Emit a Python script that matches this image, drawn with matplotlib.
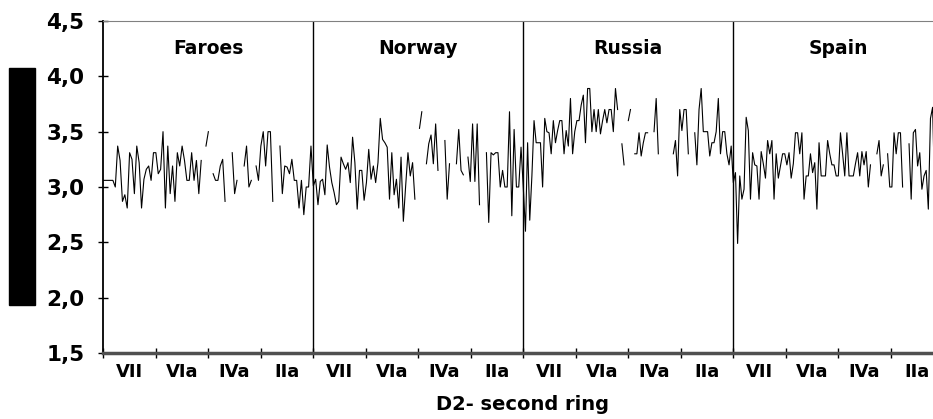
import numpy as np
import matplotlib
matplotlib.use("Agg")
import matplotlib.pyplot as plt
from matplotlib.patches import Rectangle

plt.rcParams['font.family'] = ['DejaVu Sans']
plt.rcParams['font.weight'] = 'bold'

nan = np.nan

countries = ["Faroes", "Norway", "Russia", "Spain"]
areas = ["VII", "VIa", "IVa", "IIa"]
y_ticks = [1.5, 2.0, 2.5, 3.0, 3.5, 4.0, 4.5]
x_label = "D2- second ring"

faroes = [3.06, 3.06, 3.06, 3.06, 3.06, 3.0, 3.37, 3.24, 2.87, 2.93, 2.81, 3.31, 3.25, 2.94,
          3.37, 3.22, 2.81, 3.07, 3.16, 3.19, 3.06, 3.31, 3.31, 3.12, 3.16, 3.5, 2.81, 3.37,
          2.94, 3.19, 2.87, 3.31, 3.19, 3.37, 3.24, 3.06, 3.06, 3.31, 3.06, 3.24, 2.94, 3.24,
          nan, 3.37, 3.5, nan, 3.12, 3.06, 3.06, 3.19, 3.25, 2.87, nan, nan, 3.31, 2.94, 3.06,
          nan, nan, 3.19, 3.37, 3.0, 3.06, nan, 3.19, 3.06, 3.37, 3.5, 3.19, 3.5, 3.5, 2.87,
          nan, nan, 3.37, 2.94, 3.19, 3.18, 3.12, 3.25, 3.06, 3.06, 2.81, 3.06, 2.75, 3.0,
          3.0, 3.37]

norway = [3.01, 3.07, 2.84, 3.05, 3.07, 2.93, 3.38, 3.18, 3.04, 2.95, 2.84, 2.87, 3.27, 3.21,
          3.16, 3.22, 3.04, 3.45, 3.22, 2.80, 3.15, 3.15, 2.88, 3.04, 3.34, 3.07, 3.19, 3.04,
          3.22, 3.62, 3.43, 3.40, 3.36, 2.89, 3.31, 2.93, 3.07, 2.81, 3.27, 2.69, 3.01, 3.31,
          3.10, 3.22, 2.89, nan, 3.53, 3.68, nan, 3.21, 3.39, 3.47, 3.21, 3.57, 3.15, nan, nan,
          3.42, 2.89, 3.21, nan, nan, 3.21, 3.52, 3.15, 3.11, nan, 3.27, 3.05, 3.57, 3.05, 3.57,
          2.84, nan, nan, 3.31, 2.68, 3.31, 3.29, 3.31, 3.31, 3.0, 3.15, 3.0, 3.0, 3.68, 2.74,
          3.52, 3.0, 3.0, 3.36]

russia = [2.99, 2.60, 3.40, 2.70, 3.10, 3.60, 3.40, 3.40, 3.40, 3.0, 3.62, 3.5, 3.49, 3.30,
          3.60, 3.40, 3.51, 3.60, 3.60, 3.30, 3.51, 3.37, 3.80, 3.30, 3.5, 3.60, 3.60, 3.74,
          3.83, 3.40, 3.89, 3.89, 3.5, 3.70, 3.5, 3.70, 3.48, 3.60, 3.70, 3.58, 3.70, 3.70,
          3.5, 3.89, 3.70, nan, 3.39, 3.20, nan, 3.60, 3.70, nan, 3.30, 3.30, 3.49, 3.28, 3.40,
          3.49, 3.49, nan, nan, 3.5, 3.80, 3.30, nan, nan, nan, nan, nan, nan, 3.30, 3.42, 3.10,
          3.70, 3.51, 3.70, 3.70, 3.30, nan, nan, 3.49, 3.20, 3.70, 3.89, 3.5, 3.5, 3.5, 3.28,
          3.40, 3.40, 3.5, 3.80, 3.30, 3.5, 3.5, 3.30, 3.20, 3.37]

spain = [3.04, 3.13, 2.49, 3.10, 2.89, 2.98, 3.63, 3.51, 2.89, 3.31, 3.20, 3.19, 2.89, 3.32,
         3.21, 3.08, 3.42, 3.30, 3.42, 2.89, 3.30, 3.08, 3.19, 3.30, 3.30, 3.20, 3.31, 3.08,
         3.21, 3.49, 3.49, 3.30, 3.49, 2.89, 3.10, 3.10, 3.30, 3.13, 3.22, 2.80, 3.40, 3.10,
         3.10, 3.10, 3.42, 3.30, 3.20, 3.20, 3.10, 3.10, 3.49, 3.30, 3.10, 3.49, 3.10, 3.10,
         3.10, 3.21, 3.31, 3.10, 3.32, 3.20, 3.32, 3.0, 3.20, nan, nan, 3.30, 3.42, 3.10, 3.20,
         nan, 3.30, 3.0, 3.0, 3.49, 3.30, 3.49, 3.49, 3.0, nan, nan, 3.39, 2.89, 3.49, 3.52,
         3.19, 3.31, 2.98, 3.10, 3.15, 2.80, 3.62, 3.72, 2.90, 3.30, 3.10, 3.20]

series = [faroes, norway, russia, spain]

xs, ys = [], []
for ci, vals in enumerate(series):
    n = len(vals)
    xs.append(ci * 4 + (np.arange(n) + 0.15) * 4.0 / n)
    ys.append(np.array(vals, dtype=float))
x_all = np.concatenate(xs)
y_all = np.concatenate(ys)

W, H = 933, 419
fig = plt.figure(figsize=(W / 100, H / 100), dpi=100)
ax = fig.add_axes([103 / W, 66 / H, 840 / W, 332 / H])
ax.plot(x_all, y_all, color='black', lw=0.8)

ax.set_xlim(0, 16)
ax.set_ylim(1.5, 4.5)

for b in (4, 8, 12):
    ax.axvline(b, color='black', lw=1)

for ci, name in enumerate(countries):
    ax.text(ci * 4 + 2, 4.25, name, ha='center', va='center', fontsize=13.5,
            fontweight='bold')

ax.set_yticks(y_ticks)
ax.set_yticklabels([f"{v:.1f}".replace('.', ',') for v in y_ticks])
ax.tick_params(axis='y', direction='inout', length=7, width=1, labelsize=15.5, pad=10)

ax.set_xticks(np.arange(0, 17))
ax.set_xticklabels([])
ax.set_xticks(np.arange(16) + 0.5, minor=True)
ax.set_xticklabels(areas * 4, minor=True)
ax.tick_params(axis='x', which='major', direction='inout', length=7, width=1)
ax.tick_params(axis='x', which='minor', length=0, labelsize=13, pad=7)

ax.set_xlabel(x_label, fontsize=14, fontweight='bold', labelpad=10)

ax.spines['right'].set_visible(False)
ax.spines['top'].set_color('#808080')
ax.spines['left'].set_color('black')
ax.spines['left'].set_linewidth(1.3)
ax.spines['bottom'].set_color('#505050')
ax.spines['bottom'].set_linewidth(2.5)

fig.add_artist(Rectangle((9 / W, (H - 305) / H), 26 / W, 237 / H,
                         transform=fig.transFigure, color='black'))

fig.savefig("out.png", dpi=100)
